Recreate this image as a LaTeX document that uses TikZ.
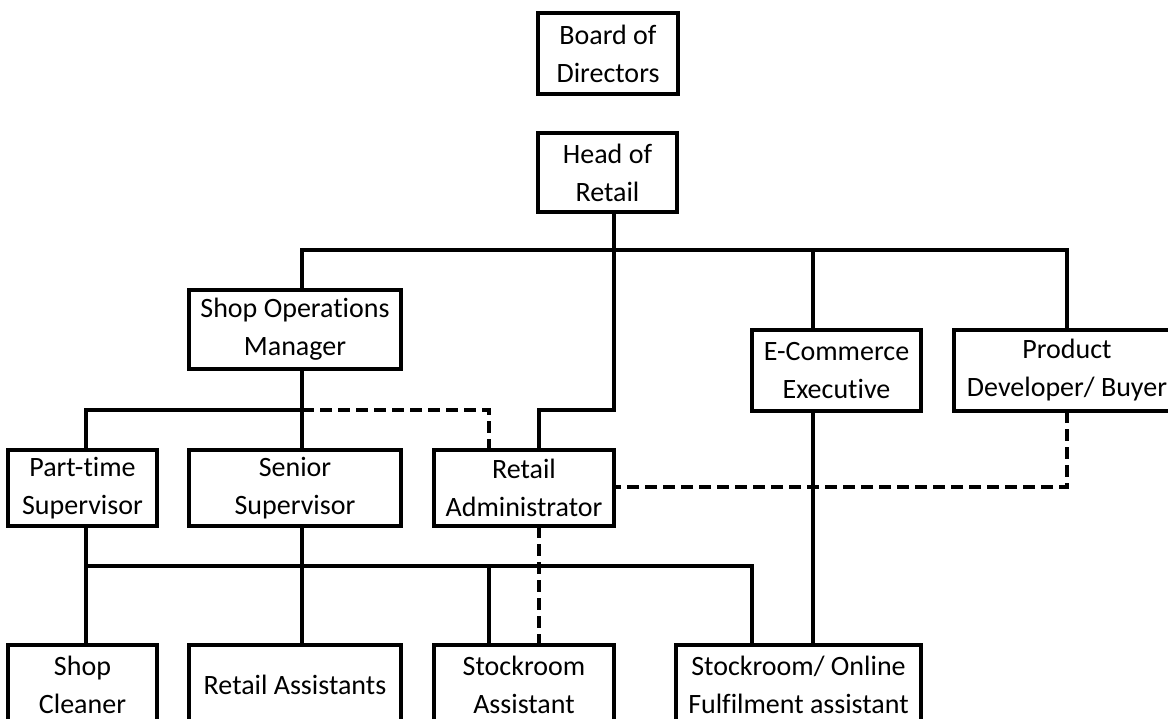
\documentclass[tikz,border=0pt]{standalone}
\usepackage{fontspec}
\setmainfont{Carlito}[Ligatures={NoCommon}]
\begin{document}
\begin{tikzpicture}[x=0.75pt,y=-0.75pt,
  box/.style={draw, line width=2.4pt, rectangle, inner sep=0pt, outer sep=0pt, align=center, font=\fontsize{21}{28.5}\selectfont},
  link/.style={line width=2.4pt},
  dlink/.style={line width=2.4pt, dash pattern=on 9pt off 4.5pt}]
\useasboundingbox (0,0) rectangle (1168,718);
\clip (0,0) rectangle (1168,718);
\fill[white] (0,0) rectangle (1168,718);
% boxes
\node[box, minimum width=105pt, minimum height=60.75pt] (bod) at (608,53.5) {Board of\\Directors};
\node[box, minimum width=104.25pt, minimum height=59.25pt] (hor) at (607.5,172.5) {Head of\\Retail};
\node[box, minimum width=159pt, minimum height=59.25pt] (som) at (295,329.5) {Shop Operations\\Manager};
\node[box, minimum width=126.75pt, minimum height=60.75pt] (eco) at (836.5,370.5) {E-Commerce\\Executive};
\node[box, minimum width=169.5pt, minimum height=60.75pt] (pdb) at (1067,370.5) {Product\\Developer/ Buyer};
\node[box, minimum width=111.75pt, minimum height=57pt] (pts) at (82.5,488) {Part-time\\Supervisor};
\node[box, minimum width=159pt, minimum height=57pt] (ssu) at (295,488) {Senior\\Supervisor};
\node[box, minimum width=135pt, minimum height=57pt] (rad) at (524,488) {Retail\\Administrator};
\node[box, minimum width=111.75pt, minimum height=60pt] (scl) at (82.5,685) {Shop\\Cleaner};
\node[box, minimum width=159pt, minimum height=60pt] (ras) at (295,685) {Retail Assistants};
\node[box, minimum width=135pt, minimum height=60pt] (sas) at (524,685) {Stockroom\\Assistant};
\node[box, minimum width=183.75pt, minimum height=60pt] (sof) at (798.5,685) {Stockroom/ Online\\Fulfilment assistant};
% x positions of connectors
\coordinate (xh) at (614,0);
\coordinate (xs) at (302,0);
\coordinate (xe) at (813,0);
\coordinate (xp) at (1067,0);
\coordinate (xt) at (86,0);
\coordinate (xa) at (489,0);
\coordinate (xr) at (539,0);
\coordinate (xo) at (752,0);
\coordinate (y1) at (0,250);
\coordinate (y2) at (0,410);
\coordinate (y3) at (0,566);
\coordinate (y4) at (0,487);
% level 1 bus
\draw[link] (hor.south -| xh) -- (xh |- y2) -- (xr |- y2) -- (rad.north -| xr);
\draw[link] (som.north -| xs) -- (xs |- y1) -- (xp |- y1) -- (pdb.north -| xp);
\draw[link] (xe |- y1) -- (eco.north -| xe);
% level 2
\draw[link] (som.south -| xs) -- (ssu.north -| xs);
\draw[link] (pts.north -| xt) -- (xt |- y2) -- (xs |- y2);
\draw[dlink] (xs |- y2) -- (xa |- y2) -- (rad.north -| xa);
% level 3
\draw[link] (pts.south -| xt) -- (scl.north -| xt);
\draw[link] (ssu.south -| xs) -- (ras.north -| xs);
\draw[link] (xt |- y3) -- (xo |- y3) -- (sof.north -| xo);
\draw[link] (xa |- y3) -- (sas.north -| xa);
\draw[dlink] (rad.south -| xr) -- (sas.north -| xr);
\draw[link] (eco.south -| xe) -- (sof.north -| xe);
\draw[dlink] (pdb.south -| xp) -- (xp |- y4) -- (rad.east |- y4);
\end{tikzpicture}
\end{document}
